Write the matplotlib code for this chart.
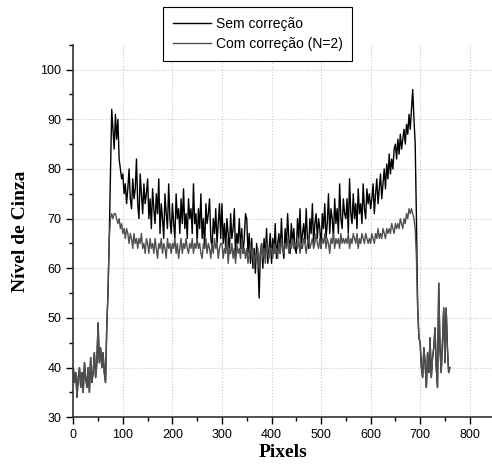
import numpy as np
import matplotlib.pyplot as plt
from matplotlib.ticker import MultipleLocator

plt.rcParams['font.family'] = ['Liberation Sans', 'DejaVu Sans']

pixels = np.arange(0, 762.5, 2.5)

sem_correcao = [
    40, 37, 39, 34, 38, 40, 36, 39, 35, 41, 38, 36, 40, 35, 42, 37, 39, 43, 38, 41,
    49, 41, 44, 40, 43, 39, 37, 48, 55, 66, 79, 92, 88, 84, 91, 86, 90, 82, 80, 78,
    79, 75, 77, 73, 76, 80, 74, 72, 78, 74, 76, 82, 73, 70, 79, 75, 71, 77, 73, 75,
    78, 70, 74, 68, 76, 72, 69, 75, 71, 78, 67, 73, 70, 66, 75, 71, 68, 77, 70, 67,
    73, 69, 66, 75, 70, 72, 67, 74, 69, 76, 68, 71, 66, 74, 70, 72, 67, 77, 69, 71,
    65, 72, 68, 75, 66, 70, 64, 73, 69, 71, 74, 66, 64, 70, 67, 72, 65, 69, 73, 66,
    73, 65, 69, 64, 70, 67, 63, 71, 66, 68, 72, 62, 67, 65, 70, 64, 68, 63, 66, 71,
    70, 63, 67, 61, 66, 60, 64, 59, 65, 62, 54, 63, 65, 60, 66, 62, 68, 61, 64, 67,
    61, 66, 63, 69, 62, 65, 67, 63, 70, 64, 62, 68, 64, 71, 66, 63, 69, 65, 68, 64,
    63, 70, 66, 72, 64, 67, 69, 65, 72, 66, 64, 70, 67, 73, 65, 69, 71, 66, 70, 68,
    64, 71, 68, 73, 66, 69, 75, 67, 72, 70, 66, 74, 69, 72, 67, 77, 70, 68, 74, 71,
    70, 74, 67, 78, 71, 69, 75, 70, 73, 68, 76, 71, 73, 69, 77, 72, 70, 76, 73, 75,
    72, 74, 77, 71, 75, 78, 73, 76, 79, 74, 77, 80, 76, 81, 78, 83, 79, 82, 80, 84,
    85, 82, 86, 83, 87, 84, 86, 88, 85, 89, 87, 91, 88, 92, 96, 90, 85, 70, 52, 46,
    45, 40, 38, 44, 41, 36, 43, 39, 46, 38, 42, 44, 48, 40, 36, 57, 44, 39, 45, 52,
    41, 52, 44, 39, 40,
]

com_correcao = [
    40, 37, 39, 34, 38, 40, 36, 39, 35, 41, 38, 36, 40, 35, 42, 37, 39, 43, 38, 41,
    49, 41, 44, 40, 43, 39, 37, 48, 55, 66, 70, 71, 70, 71, 71, 70, 69, 70, 68, 69,
    67, 68, 66, 68, 67, 65, 67, 66, 64, 67, 65, 66, 64, 66, 65, 67, 64, 65, 63, 66,
    65, 63, 66, 64, 65, 63, 66, 64, 62, 65, 64, 66, 63, 65, 64, 62, 66, 64, 65, 63,
    65, 64, 66, 63, 65, 62, 64, 66, 63, 65, 64, 66, 64, 63, 65, 64, 66, 63, 65, 64,
    66, 64, 65, 63, 62, 65, 64, 66, 63, 65, 64, 62, 65, 63, 66, 64, 65, 62, 64, 65,
    65, 62, 64, 63, 66, 61, 64, 63, 65, 62, 64, 61, 65, 63, 64, 62, 66, 63, 64, 62,
    64, 61, 63, 65, 62, 64, 60, 63, 62, 64, 60, 63, 65, 62, 64, 61, 65, 63, 62, 64,
    64, 62, 65, 63, 64, 62, 65, 63, 66, 64, 63, 65, 64, 66, 63, 65, 64, 66, 64, 65,
    65, 64, 66, 63, 65, 64, 66, 65, 63, 65, 66, 64, 65, 66, 64, 65, 67, 65, 64, 66,
    64, 66, 65, 67, 64, 66, 65, 63, 66, 65, 67, 64, 66, 65, 66, 64, 67, 65, 66, 65,
    66, 65, 67, 64, 66, 65, 67, 66, 65, 67, 64, 66, 65, 67, 66, 65, 67, 66, 65, 66,
    65, 67, 66, 65, 67, 66, 68, 66, 67, 66, 68, 67, 66, 68, 67, 68, 67, 69, 68, 67,
    69, 68, 69, 68, 70, 69, 68, 70, 69, 71, 70, 72, 71, 72, 71, 70, 68, 62, 52, 46,
    45, 40, 38, 44, 41, 36, 43, 39, 46, 38, 42, 44, 48, 40, 36, 57, 44, 39, 45, 52,
    41, 52, 44, 39, 40,
]

fig = plt.figure(figsize=(4.92, 4.72), dpi=100)
ax = fig.add_axes([0.149, 0.116, 0.851, 0.789])

ax.plot(pixels, sem_correcao, color='black', lw=1.0, label='Sem correção')
ax.plot(pixels, com_correcao, color='#505050', lw=1.0, label='Com correção (N=2)')

ax.set_xlim(0, 845)
ax.set_ylim(30, 105)
ax.xaxis.set_major_locator(MultipleLocator(100))
ax.xaxis.set_minor_locator(MultipleLocator(50))
ax.yaxis.set_major_locator(MultipleLocator(10))
ax.yaxis.set_minor_locator(MultipleLocator(5))
ax.tick_params(which='major', direction='out', length=5, width=1, labelsize=9)
ax.tick_params(which='minor', direction='out', length=3, width=1)
ax.grid(True, which='major', color='#c8c8c8', linestyle=':', linewidth=0.8)
ax.set_axisbelow(True)

for side in ['top', 'right']:
    ax.spines[side].set_visible(False)
for side in ['left', 'bottom']:
    ax.spines[side].set_linewidth(1.2)
    ax.spines[side].set_color('#333333')

ax.set_xlabel('Pixels', family='Liberation Serif', fontweight='bold', fontsize=14, labelpad=2)
ax.set_ylabel('Nível de Cinza', family='Liberation Serif', fontweight='bold', fontsize=14, labelpad=8)

leg = fig.legend(loc='upper left', bbox_to_anchor=(0.331, 0.985), fontsize=10,
                 handlelength=2.8, borderpad=0.7, labelspacing=0.45, handletextpad=0.3,
                 borderaxespad=0, fancybox=False, framealpha=1, edgecolor='black')
leg.get_frame().set_linewidth(0.8)

fig.savefig('out.png', dpi=100)
